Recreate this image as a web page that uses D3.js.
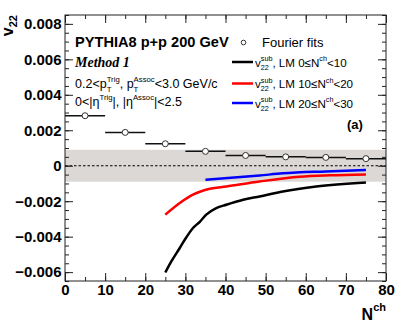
<!DOCTYPE html>
<html>
<head>
<meta charset="utf-8">
<script src="https://cdn.jsdelivr.net/npm/d3@7"></script>
<style>
  body { margin: 0; background: #fff; }
  text { font-family: "Liberation Sans", Arial, sans-serif; fill: #000; }
</style>
</head>
<body>
<div id="chart"></div>
<script>
// Fourier fit points (open circles, horizontal bars = bin width)
let fit_n = [5, 15, 25, 35, 45, 55, 65, 75];
let fit_v = [0.00282, 0.00188, 0.00124, 0.00081, 0.00058, 0.0005, 0.00047, 0.0004];
let fit_half = 5;

// v22 sub curves, LM 0-10 / 10-20 / 20-30
let lm0_n = [25, 26.5, 28.6, 30, 31.9, 33.6, 35.2, 37.7, 40.2, 44.4, 48.5, 54.3, 62.6, 75];
let lm0_v = [-0.00602, -0.0054, -0.00464, -0.00412, -0.00351, -0.00316, -0.00276, -0.00239, -0.0022, -0.00192, -0.00173, -0.00145, -0.00117, -0.00094];
let lm1_n = [25, 28.6, 31.9, 36.1, 40.2, 48.5, 58.5, 66, 75];
let lm1_v = [-0.00276, -0.0021, -0.00163, -0.0013, -0.00117, -0.00089, -0.00062, -0.00054, -0.00049];
let lm2_n = [35, 48.5, 54.3, 65, 75];
let lm2_v = [-0.00079, -0.00055, -0.00043, -0.00032, -0.00024];

let band = [-0.0009, 0.0009]; // grey systematic band around zero

let x_ticks = [0, 10, 20, 30, 40, 50, 60, 70, 80];
let y_ticks = [-0.006, -0.004, -0.002, 0, 0.002, 0.004, 0.006, 0.008];

let chart_width = 407;
let chart_height = 323;

let svg = d3
  .select("#chart")
  .append("svg")
  .attr("width", chart_width)
  .attr("height", chart_height);

let x_scale = d3.scaleLinear().domain([0, 80]).range([65, 386]);
let y_scale = d3.scaleLinear().domain([-0.0065, 0.0085]).range([281, 15]);

let x0 = x_scale.range()[0], x1 = x_scale.range()[1];
let y0 = y_scale.range()[0], y1 = y_scale.range()[1];

// band + zero line
svg.append("rect")
  .attr("x", x0).attr("width", x1 - x0)
  .attr("y", y_scale(band[1]))
  .attr("height", y_scale(band[0]) - y_scale(band[1]))
  .attr("fill", "#dcd8d5");

svg.append("line")
  .attr("x1", x0).attr("x2", x1)
  .attr("y1", y_scale(0)).attr("y2", y_scale(0))
  .attr("stroke", "#000").attr("stroke-width", 1.2)
  .attr("stroke-dasharray", "2.5,2");

// axes, ticks pointing inward
let minor_x = d3.range(0, 81, 5);
let minor_y = d3.range(-0.0065, 0.00851, 0.0005);
let fmt = function (d) {
  return Math.abs(d) < 1e-9 ? "0" : d3.format(".3f")(d);
};

function axis(gen, tr, vals, size, labels) {
  let g = svg.append("g").attr("transform", tr)
    .call(gen.tickValues(vals).tickSizeInner(-size).tickSizeOuter(0)
      .tickPadding(labels ? 3.5 : 0).tickFormat(labels ? labels : ""));
  g.select(".domain").remove();
  g.selectAll("line").attr("stroke", "#222");
  g.selectAll("text").attr("font-size", 15).attr("font-weight", "bold")
    .attr("font-family", "Liberation Sans, Arial, sans-serif").attr("fill", "#000");
  return g;
}

axis(d3.axisBottom(x_scale), "translate(0," + y0 + ")", minor_x, 4, null);
axis(d3.axisBottom(x_scale), "translate(0," + y0 + ")", x_ticks, 8, d3.format("d"));
axis(d3.axisTop(x_scale), "translate(0," + y1 + ")", minor_x, 4, null);
axis(d3.axisTop(x_scale), "translate(0," + y1 + ")", x_ticks, 8, null);
axis(d3.axisLeft(y_scale), "translate(" + x0 + ",0)", minor_y, 4, null);
axis(d3.axisLeft(y_scale), "translate(" + x0 + ",0)", y_ticks, 8, fmt);
axis(d3.axisRight(y_scale), "translate(" + x1 + ",0)", minor_y, 4, null);
axis(d3.axisRight(y_scale), "translate(" + x1 + ",0)", y_ticks, 8, null);

// frame
svg.append("rect")
  .attr("x", x0).attr("y", y1)
  .attr("width", x1 - x0).attr("height", y0 - y1)
  .attr("fill", "none").attr("stroke", "#222").attr("stroke-width", 1);

// curves
let line_gen = d3.line()
  .x(function (d) { return x_scale(d[0]); })
  .y(function (d) { return y_scale(d[1]); })
  .curve(d3.curveMonotoneX);

let curves = [
  { n: lm0_n, v: lm0_v, c: "#000000" },
  { n: lm1_n, v: lm1_v, c: "#ff0000" },
  { n: lm2_n, v: lm2_v, c: "#0000ff" }
];
curves.forEach(function (c) {
  svg.append("path")
    .datum(d3.zip(c.n, c.v))
    .attr("d", line_gen)
    .attr("fill", "none")
    .attr("stroke", c.c)
    .attr("stroke-width", 2.5);
});

// fourier fit points
let pts = d3.zip(fit_n, fit_v);
svg.selectAll(".err")
  .data(pts)
  .enter()
  .append("line")
  .attr("x1", function (d) { return x_scale(d[0] - fit_half); })
  .attr("x2", function (d) { return x_scale(d[0] + fit_half); })
  .attr("y1", function (d) { return y_scale(d[1]); })
  .attr("y2", function (d) { return y_scale(d[1]); })
  .attr("stroke", "#111").attr("stroke-width", 1.5);

svg.selectAll(".pt")
  .data(pts)
  .enter()
  .append("circle")
  .attr("cx", function (d) { return x_scale(d[0]); })
  .attr("cy", function (d) { return y_scale(d[1]); })
  .attr("r", 3)
  .attr("fill", "#fff").attr("stroke", "#333").attr("stroke-width", 1);

// text with stacked sup/sub parts: [main, sup, sub]
function rich(x, y, parts, size) {
  let cx = x;
  parts.forEach(function (p) {
    let t = svg.append("text").attr("x", cx).attr("y", y)
      .attr("font-size", size).text(p[0]);
    cx += t.node().getComputedTextLength();
    let w = 0;
    if (p[1]) {
      let s = svg.append("text").attr("x", cx).attr("y", y - size * 0.45)
        .attr("font-size", size * 0.62).text(p[1]);
      w = s.node().getComputedTextLength();
    }
    if (p[2]) {
      let s = svg.append("text").attr("x", cx).attr("y", y + size * 0.3)
        .attr("font-size", size * 0.62).text(p[2]);
      w = Math.max(w, s.node().getComputedTextLength());
    }
    cx += w;
  });
  return cx;
}

svg.append("text").attr("x", 75).attr("y", 47)
  .attr("font-size", 14.6).attr("font-weight", "bold")
  .text("PYTHIA8 p+p 200 GeV");

svg.append("text").attr("x", 75).attr("y", 67)
  .attr("font-size", 14).attr("font-weight", "bold").attr("font-style", "italic")
  .style("font-family", "'Liberation Serif', 'Times New Roman', serif")
  .text("Method 1");

rich(75, 88, [["0.2<p", "Trig", "T"], [", p", "Assoc", "T"], ["<3.0 GeV/c"]], 12.5);
rich(75, 106, [["0<|η", "Trig"], ["|, |η", "Assoc"], ["|<2.5"]], 12.5);

// legend
svg.append("circle").attr("cx", 243.5).attr("cy", 42.5).attr("r", 2.3)
  .attr("fill", "#fff").attr("stroke", "#333").attr("stroke-width", 1);
svg.append("text").attr("x", 262).attr("y", 47).attr("font-size", 13).text("Fourier fits");

let leg = [
  { c: "#000000", y: 62, lab: "0≤N", hi: "<10" },
  { c: "#ff0000", y: 83.5, lab: "10≤N", hi: "<20" },
  { c: "#0000ff", y: 103, lab: "20≤N", hi: "<30" }
];
leg.forEach(function (l) {
  svg.append("line").attr("x1", 232).attr("x2", 253)
    .attr("y1", l.y).attr("y2", l.y)
    .attr("stroke", l.c).attr("stroke-width", 2.5);
  rich(255, l.y + 4.5, [["v", "sub", "22"], [", LM " + l.lab, "ch"], [l.hi]], 11.6);
});

svg.append("text").attr("x", 347).attr("y", 129)
  .attr("font-size", 13).attr("font-weight", "bold").text("(a)");

// axis titles
let xt = svg.append("text").attr("x", 386).attr("y", 320)
  .attr("text-anchor", "end").attr("font-weight", "bold");
xt.append("tspan").attr("font-size", 16).text("N");
xt.append("tspan").attr("font-size", 11).attr("dy", -9).text("ch");

let yt = svg.append("text")
  .attr("transform", "translate(12.5,15) rotate(-90)")
  .attr("text-anchor", "end").attr("font-weight", "bold");
yt.append("tspan").attr("font-size", 16).text("v");
yt.append("tspan").attr("font-size", 11).attr("dy", 4).text("22");
</script>
</body>
</html>
